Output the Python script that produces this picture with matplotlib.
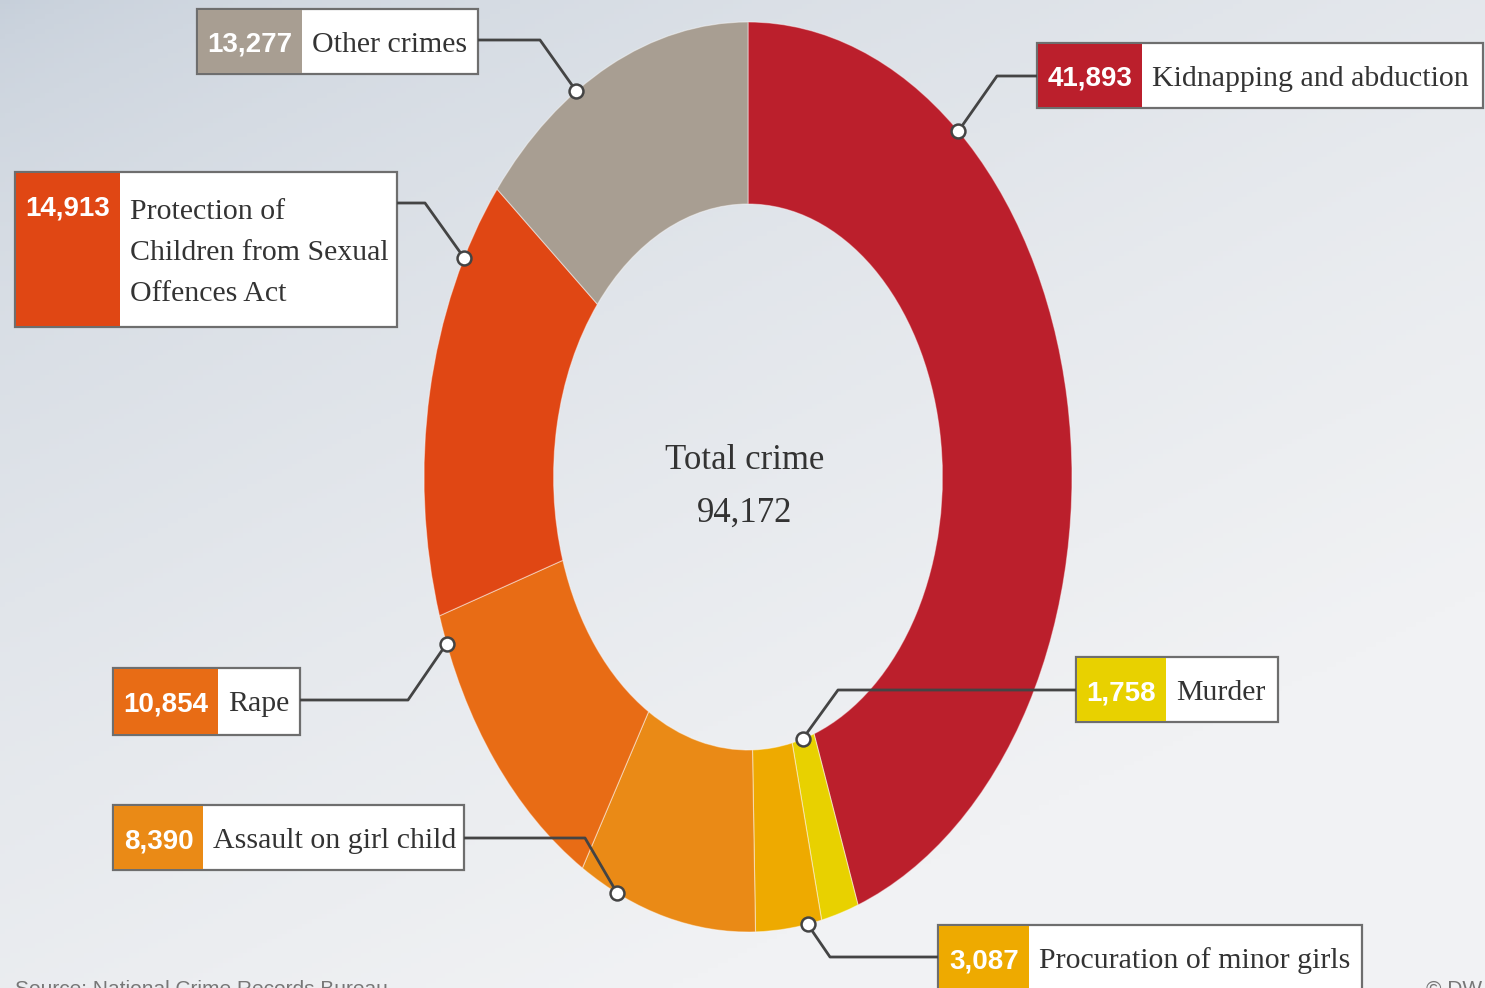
import numpy as np
import matplotlib.pyplot as plt
from matplotlib.patches import Rectangle

# Daten (NCRB, Verbrechen gegen Kinder)
labels = ["Kidnapping and abduction", "Murder", "Procuration of minor girls",
          "Assault on girl child", "Rape",
          "Protection of\nChildren from Sexual\nOffences Act", "Other crimes"]
values = [41893, 1758, 3087, 8390, 10854, 14913, 13277]
colors = ["#bb1f2c", "#e8d100", "#eeaa00", "#ea8a16", "#e86c15", "#e04714", "#a89e92"]
total = sum(values)

W, H = 1485, 988
SERIF = ["Liberation Serif", "DejaVu Serif"]
NUMFONT = ["Liberation Sans", "DejaVu Sans"]

# Kastenpositionen in Pixeln: (x0, y0, x1, y1, breite der Zahlenzelle)
boxes = [
    (1037, 43, 1483, 108, 104),
    (1076, 657, 1278, 722, 89),
    (938, 925, 1362, 1010, 90),
    (113, 805, 464, 870, 89),
    (113, 668, 300, 735, 104),
    (15, 172, 397, 327, 104),
    (197, 9, 478, 74, 104),
]
# Ankerpunkt am Ring: (Winkel im Uhrzeigersinn ab oben, Radius)
anchors = [(40.5, 1.0), (163.7, 0.6), (169.4, 1.0), (203.8, 1.0),
           (248.5, 1.0), (298.8, 1.0), (328.0, 1.0)]
# Leitlinie: Start am Kasten, Knickpunkt
leaders = [
    ((1037, 76), (997, 76)),
    ((1076, 690), (838, 690)),
    ((938, 957), (830, 957)),
    ((464, 838), (585, 838)),
    ((300, 700), (408, 700)),
    ((397, 203), (425, 203)),
    ((478, 40), (540, 40)),
]

fig = plt.figure(figsize=(W / 100, H / 100), dpi=100)

# Hintergrund mit Verlauf
bg = fig.add_axes([0, 0, 1, 1])
yy, xx = np.mgrid[0:1:200j, 0:1:300j]
t = np.clip(0.55 * xx + 0.75 * yy, 0, 1) ** 0.6
c0 = np.array([198, 207, 218]) / 255
c1 = np.array([241, 242, 244]) / 255
img = c0[None, None, :] * (1 - t[..., None]) + c1[None, None, :] * t[..., None]
bg.imshow(img, extent=[0, W, H, 0], aspect="auto")
bg.set_xlim(0, W)
bg.set_ylim(H, 0)
bg.axis("off")

# Ring
cx0, cy0, cx1, cy1 = 424, 22, 1072, 932
ax = fig.add_axes([cx0 / W, (H - cy1) / H, (cx1 - cx0) / W, (cy1 - cy0) / H])
ax.pie(values, colors=colors, startangle=90, counterclock=False, radius=1,
       wedgeprops=dict(width=0.4, edgecolor=(1, 1, 1, 0.45), linewidth=0.8))
ax.set_aspect("auto")
ax.set_xlim(-1, 1)
ax.set_ylim(-1, 1)
ax.axis("off")
ax.patch.set_alpha(0)

# Overlay in Pixelkoordinaten
ov = fig.add_axes([0, 0, 1, 1])
ov.set_xlim(0, W)
ov.set_ylim(H, 0)
ov.axis("off")
ov.patch.set_alpha(0)

for i in range(len(values)):
    x0, y0, x1, y1, nw = boxes[i]
    ov.add_patch(Rectangle((x0, y0), x1 - x0, y1 - y0, facecolor="white",
                           edgecolor="#6e6e6e", linewidth=1.6, zorder=3))
    ov.add_patch(Rectangle((x0 + 1, y0 + 1), nw, y1 - y0 - 2, facecolor=colors[i],
                           edgecolor="none", zorder=4))
    multi = "\n" in labels[i]
    ty = y0 + 36
    ov.text(x0 + 1 + nw / 2, ty, f"{values[i]:,}", color="white", fontsize=20,
            fontweight="bold", family=NUMFONT, ha="center", va="center", zorder=5)
    if multi:
        ov.text(x0 + nw + 11, y0 + 81, labels[i], color="#333333", fontsize=21.5,
                family=SERIF, ha="left", va="center", linespacing=1.75, zorder=5)
    else:
        ov.text(x0 + nw + 11, ty, labels[i], color="#333333", fontsize=21.5,
                family=SERIF, ha="left", va="center", zorder=5)

    # Ankerpunkt ueber die Skala der Ringachse
    ang, r = anchors[i]
    px, py = ax.transData.transform((r * np.sin(np.radians(ang)),
                                     r * np.cos(np.radians(ang))))
    py = H - py
    (sx, sy), (kx, ky) = leaders[i]
    ov.plot([sx, kx, px], [sy, ky, py], color="#444444", linewidth=2, zorder=6,
            solid_capstyle="butt")
    ov.plot(px, py, "o", markersize=10, markerfacecolor="white",
            markeredgecolor="#444444", markeredgewidth=1.8, zorder=7)

# Mitte
ov.text(745, 460, "Total crime", color="#333333", fontsize=25, family=SERIF,
        ha="center", va="center")
ov.text(745, 513, f"{total:,}", color="#333333", fontsize=25, family=SERIF,
        ha="center", va="center")

# Fusszeile (abgeschnitten wie im Original)
ov.text(15, 980, "Source: National Crime Records Bureau", color="#777777",
        fontsize=15, family=["Liberation Sans", "DejaVu Sans"], ha="left", va="top")
ov.text(1482, 980, "\u00a9 DW", color="#777777", fontsize=15,
        family=["Liberation Sans", "DejaVu Sans"], ha="right", va="top")

fig.savefig("out.png", dpi=100)
